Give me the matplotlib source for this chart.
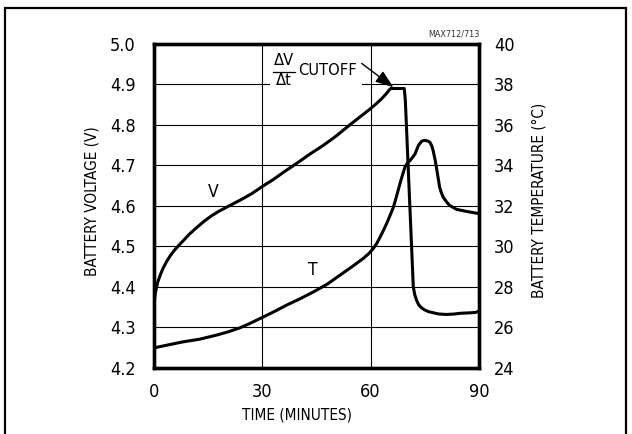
import matplotlib
matplotlib.use("Agg")
import matplotlib.pyplot as plt
from matplotlib.patches import Rectangle

plt.rcParams['font.family'] = ['DejaVu Sans']
plt.rcParams['font.stretch'] = 'condensed'

# battery voltage curve (minutes, volts)
v_time = [0, 0.5, 1.0, 1.7, 2.5, 3.5, 4.5, 5.5, 7, 8.5, 10, 12, 14, 16, 18,
          21, 24, 27, 30, 33, 36, 39.5, 43, 46.8, 50.5, 54.2, 57.5, 59.8,
          61.5, 62.6, 63.6, 64.5, 65.2, 65.6, 69.3, 69.6, 71.8, 72.2, 72.7,
          73.3, 74.0, 74.8, 76, 77.4, 79, 81, 83, 85, 87.5, 89, 90]
v_volts = [4.362, 4.39, 4.41, 4.428, 4.445, 4.462, 4.476, 4.488, 4.503,
           4.517, 4.531, 4.547, 4.562, 4.575, 4.586, 4.600, 4.614, 4.629,
           4.647, 4.664, 4.683, 4.704, 4.726, 4.748, 4.772, 4.799, 4.822,
           4.838, 4.851, 4.860, 4.869, 4.878, 4.886, 4.889, 4.889, 4.86,
           4.40, 4.38, 4.366, 4.355, 4.348, 4.343, 4.338, 4.335, 4.332,
           4.331, 4.332, 4.334, 4.335, 4.336, 4.339]

# battery temperature curve (minutes, deg C)
t_time = [0, 4, 8.1, 12.7, 17.3, 20.5, 23.8, 26.6, 30.3, 33.5, 36.7, 40.5,
          44.1, 48, 51.5, 55, 57.9, 59.5, 60.7, 61.7, 62.6, 63.5, 64.4, 65.3,
          66.3, 67.2, 68.1, 68.8, 69.5, 70.2, 70.9, 71.6, 72.3, 73.2, 74.1,
          74.8, 75.5, 76.0, 76.4, 76.9, 77.3, 77.8, 78.2, 78.7, 79.1, 79.6,
          80.1, 81.0, 81.9, 83.8, 86.5, 90]
t_degc = [24.97, 25.12, 25.27, 25.4, 25.6, 25.76, 25.96, 26.18, 26.5, 26.78,
          27.08, 27.4, 27.73, 28.12, 28.56, 29.0, 29.38, 29.63, 29.87, 30.13,
          30.44, 30.76, 31.1, 31.48, 31.92, 32.48, 33.07, 33.5, 33.9, 34.1,
          34.22, 34.38, 34.55, 34.96, 35.17, 35.22, 35.2, 35.17, 35.12,
          34.96, 34.71, 34.3, 33.89, 33.35, 32.9, 32.62, 32.41, 32.18, 32.0,
          31.81, 31.71, 31.6]

x_ticks = [0, 30, 60, 90]
v_ticks = [4.2, 4.3, 4.4, 4.5, 4.6, 4.7, 4.8, 4.9, 5.0]
t_ticks = [24, 26, 28, 30, 32, 34, 36, 38, 40]

fig = plt.figure(figsize=(6.32, 4.34), dpi=100)
ax = fig.add_axes([0.2437, 0.1532, 0.5142, 0.7465])
ax2 = ax.twinx()

ax.set_xlim(0, 90)
ax.set_ylim(4.2, 5.0)
ax2.set_ylim(24, 40)
ax.set_xticks(x_ticks)
ax.set_yticks(v_ticks)
ax.set_yticklabels([f"{v:.1f}" for v in v_ticks])
ax2.set_yticks(t_ticks)
ax.tick_params(axis='both', length=0, labelsize=13)
ax.tick_params(axis='y', pad=13)
ax.tick_params(axis='x', pad=11)
ax2.tick_params(axis='y', length=0, labelsize=13, pad=11)

ax.grid(True, color='black', linewidth=0.8)
ax.set_axisbelow(True)
for a in (ax, ax2):
    for s in a.spines.values():
        s.set_linewidth(2.4)

# break in the 4.9 gridline behind the cutoff label
ax.add_patch(Rectangle((32.1, 4.88), 25.4, 0.04, facecolor='white',
                       edgecolor='none', zorder=1.5))

ax2.plot(t_time, t_degc, color='black', linewidth=2.2, zorder=3)
ax.plot(v_time, v_volts, color='black', linewidth=2.2, zorder=3)

ax.text(16.4, 4.633, 'V', fontsize=12.5, ha='center', va='center')
ax.text(44.0, 4.44, 'T', fontsize=12.5, ha='center', va='center')

# dV/dt cutoff label
ax.text(36.0, 4.958, 'ΔV', fontsize=11.8, ha='center', va='center', zorder=4)
ax.text(36.0, 4.909, 'Δt', fontsize=11.8, ha='center', va='center', zorder=4)
ax.plot([33.0, 39.0], [4.930, 4.930], color='black', linewidth=0.9,
        zorder=4, clip_on=False)
ax.text(40.0, 4.934, 'CUTOFF', fontsize=11.8, ha='left', va='center', zorder=4)
ax.annotate('', xy=(66.3, 4.892), xytext=(57.5, 4.951),
            arrowprops=dict(arrowstyle='-|>,head_length=1.1,head_width=0.4',
                            color='black', lw=1.0, shrinkA=0, shrinkB=0),
            zorder=4)

ax.set_xlabel('TIME (MINUTES)', fontsize=11, labelpad=5, x=0.44)
ax.set_ylabel('BATTERY VOLTAGE (V)', fontsize=11, labelpad=8, y=0.515)
ax2.set_ylabel('BATTERY TEMPERATURE (°C)', fontsize=11, labelpad=12, y=0.515)

fig.text(480 / 632, 1 - 34 / 434, 'MAX712/713', fontsize=6.5, ha='right',
         va='center', color='#333333')

# outer frame
fig.patches.append(Rectangle((5 / 632, -0.1), 621 / 632, 1.1 - 8 / 434,
                             transform=fig.transFigure, fill=False,
                             edgecolor='black', linewidth=1.6))

fig.savefig('out.png', dpi=100)
